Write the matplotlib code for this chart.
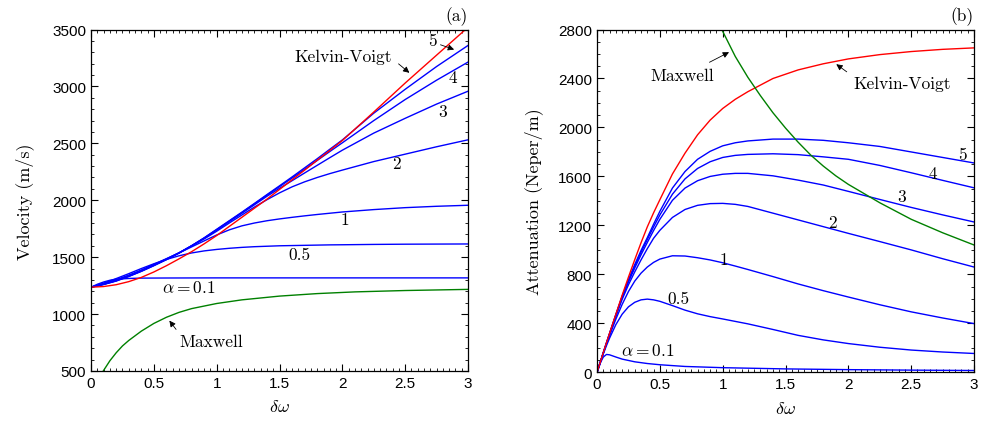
import matplotlib
matplotlib.use("Agg")
import matplotlib.pyplot as plt
from matplotlib.ticker import MultipleLocator, FuncFormatter

plt.rcParams['mathtext.fontset'] = 'cm'
plt.rcParams['font.family'] = ['Liberation Sans', 'DejaVu Sans']

# ---- (a) velocity ----
vel_x = [0, 0.1, 0.2, 0.3, 0.4, 0.5, 0.6, 0.7, 0.8, 0.9, 1.0, 1.1, 1.2, 1.3, 1.4, 1.5, 1.6, 1.7, 1.8, 1.9, 2.0, 2.25, 2.5, 2.75, 3.0]
vel_kv = [1236, 1242, 1258, 1285, 1322, 1370, 1425, 1485, 1548, 1617, 1690, 1770, 1850, 1930, 2010, 2095, 2180, 2265, 2352, 2438, 2525, 2775, 3030, 3275, 3520]
vel_a5 = [1236, 1260, 1290, 1330, 1375, 1425, 1478, 1535, 1600, 1670, 1745, 1820, 1895, 1972, 2050, 2127, 2205, 2285, 2365, 2448, 2530, 2765, 2975, 3175, 3360]
vel_a4 = [1236, 1261, 1292, 1332, 1377, 1427, 1480, 1537, 1600, 1668, 1742, 1817, 1892, 1968, 2045, 2120, 2195, 2272, 2350, 2428, 2505, 2700, 2885, 3055, 3214]
vel_a3 = [1236, 1262, 1294, 1334, 1379, 1429, 1482, 1538, 1600, 1666, 1738, 1812, 1885, 1960, 2035, 2105, 2172, 2240, 2307, 2374, 2440, 2590, 2720, 2845, 2958]
vel_a2 = [1236, 1264, 1297, 1337, 1382, 1432, 1484, 1538, 1598, 1660, 1728, 1800, 1870, 1940, 2005, 2065, 2118, 2162, 2200, 2234, 2265, 2340, 2405, 2470, 2531]
vel_a1 = [1236, 1267, 1302, 1342, 1387, 1437, 1487, 1537, 1590, 1643, 1695, 1740, 1775, 1800, 1820, 1836, 1850, 1863, 1875, 1886, 1897, 1918, 1935, 1947, 1956]
vel_a05 = [1236, 1272, 1312, 1355, 1400, 1442, 1480, 1512, 1537, 1555, 1568, 1578, 1586, 1592, 1596, 1600, 1602, 1604, 1606, 1608, 1609, 1612, 1614, 1615, 1616]
vel_a01_x = [0, 0.05, 0.1, 0.15, 0.2, 0.3, 0.4, 0.6, 1.0, 2.0, 3.0]
vel_a01 = [1236, 1262, 1282, 1297, 1306, 1313, 1316, 1317, 1318, 1318, 1318]
vel_mx_x = [0.085, 0.1, 0.15, 0.2, 0.25, 0.3, 0.4, 0.5, 0.6, 0.7, 0.8, 1.0, 1.2, 1.5, 1.8, 2.1, 2.5, 3.0]
vel_mx = [480, 505, 590, 660, 720, 768, 850, 918, 972, 1015, 1048, 1093, 1125, 1158, 1180, 1195, 1207, 1217]

# ---- (b) attenuation ----
att_x = [0, 0.025, 0.05, 0.075, 0.1, 0.15, 0.2, 0.25, 0.3, 0.35, 0.4, 0.45, 0.5, 0.6, 0.7, 0.8, 0.9, 1.0, 1.1, 1.2, 1.4, 1.6, 1.8, 2.0, 2.25, 2.5, 2.75, 3.0]
att_kv = [0, 80, 162, 242, 320, 475, 630, 778, 920, 1058, 1188, 1303, 1410, 1620, 1790, 1940, 2060, 2155, 2230, 2292, 2400, 2470, 2520, 2560, 2595, 2620, 2638, 2650]
att_a5 = [0, 80, 161, 240, 318, 472, 622, 755, 880, 995, 1100, 1210, 1315, 1505, 1640, 1740, 1805, 1850, 1875, 1890, 1905, 1905, 1895, 1875, 1845, 1800, 1755, 1710]
att_a4 = [0, 80, 161, 240, 317, 470, 618, 748, 868, 980, 1085, 1188, 1285, 1455, 1580, 1665, 1720, 1755, 1772, 1780, 1785, 1778, 1760, 1740, 1690, 1630, 1568, 1507]
att_a3 = [0, 80, 160, 238, 315, 466, 612, 738, 852, 960, 1060, 1158, 1250, 1405, 1505, 1565, 1600, 1618, 1625, 1625, 1605, 1570, 1530, 1478, 1412, 1347, 1286, 1228]
att_a2 = [0, 79, 159, 236, 312, 458, 596, 715, 820, 918, 1010, 1095, 1160, 1265, 1330, 1364, 1378, 1380, 1372, 1355, 1300, 1245, 1190, 1135, 1068, 1000, 928, 860]
att_a1 = [0, 78, 157, 232, 300, 435, 555, 660, 745, 810, 860, 898, 925, 952, 950, 936, 918, 895, 868, 840, 782, 722, 667, 615, 552, 494, 444, 398]
att_a05 = [0, 75, 150, 218, 280, 390, 475, 535, 572, 592, 598, 592, 580, 545, 508, 478, 455, 436, 416, 396, 350, 302, 265, 235, 205, 182, 166, 154]
att_a01_x = [0, 0.025, 0.05, 0.075, 0.1, 0.15, 0.2, 0.3, 0.4, 0.5, 0.7, 1.0, 1.5, 2.0, 2.5, 3.0]
att_a01 = [0, 75, 125, 146, 143, 125, 108, 86, 72, 62, 48, 38, 28, 22, 18, 15]
att_mx_x = [0.97, 1.0, 1.1, 1.2, 1.3, 1.4, 1.5, 1.6, 1.7, 1.8, 1.9, 2.0, 2.25, 2.5, 2.75, 3.0]
att_mx = [2850, 2785, 2580, 2410, 2260, 2120, 1995, 1880, 1775, 1685, 1605, 1535, 1385, 1250, 1140, 1040]

blue = '#0000ff'
red = '#ff0000'
green = '#008000'
serif = 'cmr10'

fig = plt.figure(figsize=(9.81, 4.31), dpi=100)
ax1 = fig.add_axes([0.0928, 0.1369, 0.3843, 0.7923])
ax2 = fig.add_axes([0.6086, 0.1338, 0.3843, 0.7954])


def style(ax, ymaj):
    ax.set_xlim(0, 3)
    ax.xaxis.set_major_locator(MultipleLocator(0.5))
    ax.xaxis.set_minor_locator(MultipleLocator(0.05))
    ax.yaxis.set_major_locator(MultipleLocator(ymaj))
    ax.yaxis.set_minor_locator(MultipleLocator(100))
    ax.xaxis.set_major_formatter(FuncFormatter(lambda v, p: '%g' % v))
    ax.tick_params(which='both', direction='in', top=True, right=True, labelsize=11)
    ax.tick_params(which='major', length=5, width=0.8)
    ax.tick_params(which='minor', length=2.5, width=0.6)
    ax.set_xlabel(r'$\delta\omega$', fontsize=13, labelpad=6)
    for s in ax.spines.values():
        s.set_linewidth(0.9)


def arrow(ax, tail, tip):
    ax.annotate('', xy=tip, xytext=tail,
                arrowprops=dict(arrowstyle='-|>', color='k', lw=0.6, mutation_scale=9))


# panel (a)
for y in [vel_a5, vel_a4, vel_a3, vel_a2, vel_a1, vel_a05]:
    ax1.plot(vel_x, y, color=blue, lw=1)
ax1.plot(vel_a01_x, vel_a01, color=blue, lw=1)
ax1.plot(vel_x, vel_kv, color=red, lw=1)
ax1.plot(vel_mx_x, vel_mx, color=green, lw=1)
ax1.set_ylim(500, 3500)
style(ax1, 500)
ax1.set_ylabel('Velocity (m/s)', family=serif, fontsize=13, labelpad=13)

ax1.text(2.01, 3264, 'Kelvin-Voigt', family=serif, fontsize=12.5, ha='center', va='center')
arrow(ax1, (2.43, 3214), (2.55, 3104))
ax1.text(2.72, 3403, '5', family=serif, fontsize=12.5, ha='center', va='center')
arrow(ax1, (2.76, 3374), (2.91, 3316))
ax1.text(2.88, 3083, '4', family=serif, fontsize=12.5, ha='center', va='center')
ax1.text(2.80, 2778, '3', family=serif, fontsize=12.5, ha='center', va='center')
ax1.text(2.43, 2328, '2', family=serif, fontsize=12.5, ha='center', va='center')
ax1.text(2.02, 1834, '1', family=serif, fontsize=12.5, ha='center', va='center')
ax1.text(1.66, 1529, '0.5', family=serif, fontsize=12.5, ha='center', va='center')
ax1.text(0.78, 1238, r'$\alpha = 0.1$', fontsize=12.5, ha='center', va='center')
ax1.text(0.955, 759, 'Maxwell', family=serif, fontsize=12.5, ha='center', va='center')
arrow(ax1, (0.69, 846), (0.61, 962))
ax1.text(1.0, 1.012, '(a)', family=serif, fontsize=12.5, ha='right', va='bottom', transform=ax1.transAxes)

# panel (b)
for y in [att_a5, att_a4, att_a3, att_a2, att_a1, att_a05]:
    ax2.plot(att_x, y, color=blue, lw=1)
ax2.plot(att_a01_x, att_a01, color=blue, lw=1)
ax2.plot(att_x, att_kv, color=red, lw=1)
ax2.plot(att_mx_x, att_mx, color=green, lw=1)
ax2.set_ylim(0, 2800)
style(ax2, 400)
ax2.set_ylabel('Attenuation (Neper/m)', family=serif, fontsize=13, labelpad=11)

ax2.text(0.676, 2427, 'Maxwell', family=serif, fontsize=12.5, ha='center', va='center')
arrow(ax2, (0.875, 2522), (1.07, 2625))
ax2.text(2.43, 2360, 'Kelvin-Voigt', family=serif, fontsize=12.5, ha='center', va='center')
arrow(ax2, (2.005, 2441), (1.886, 2530))
ax2.text(2.91, 1778, '5', family=serif, fontsize=12.5, ha='center', va='center')
ax2.text(2.67, 1629, '4', family=serif, fontsize=12.5, ha='center', va='center')
ax2.text(2.42, 1439, '3', family=serif, fontsize=12.5, ha='center', va='center')
ax2.text(1.87, 1223, '2', family=serif, fontsize=12.5, ha='center', va='center')
ax2.text(1.01, 925, '1', family=serif, fontsize=12.5, ha='center', va='center')
ax2.text(0.65, 601, '0.5', family=serif, fontsize=12.5, ha='center', va='center')
ax2.text(0.40, 181, r'$\alpha = 0.1$', fontsize=12.5, ha='center', va='center')
ax2.text(1.0, 1.012, '(b)', family=serif, fontsize=12.5, ha='right', va='bottom', transform=ax2.transAxes)

fig.savefig('out.png', dpi=100)
